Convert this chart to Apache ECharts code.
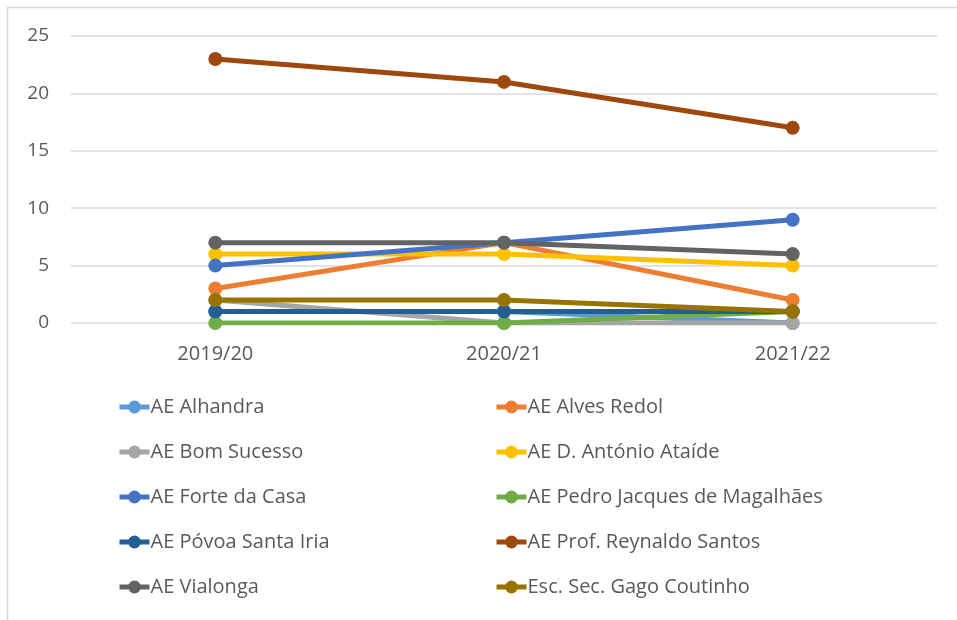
<!DOCTYPE html>
<html>
<head>
<meta charset="utf-8">
<script src="https://cdn.jsdelivr.net/npm/echarts@6/dist/echarts.min.js"></script>
<style>
    html, body { margin: 0; padding: 0; background: #fff; }
    #chart { width: 957px; height: 620px; }
</style>
</head>
<body>
<div id="chart"></div>
<script>
/**
 * 数据
 */
var categories = ['2019/20', '2020/21', '2021/22'];
var seriesNames = [
    'AE Alhandra', 'AE Alves Redol', 'AE Bom Sucesso', 'AE D. António Ataíde',
    'AE Forte da Casa', 'AE Pedro Jacques de Magalhães', 'AE Póvoa Santa Iria',
    'AE Prof. Reynaldo Santos', 'AE Vialonga', 'Esc. Sec. Gago Coutinho'
];
var alhandra = [1, 1, 0];
var alvesRedol = [3, 7, 2];
var bomSucesso = [2, 0, 0];
var antonioAtaide = [6, 6, 5];
var forteDaCasa = [5, 7, 9];
var pedroJacques = [0, 0, 1];
var povoaSantaIria = [1, 1, 1];
var reynaldoSantos = [23, 21, 17];
var vialonga = [7, 7, 6];
var gagoCoutinho = [2, 2, 1];
var seriesValues = [alhandra, alvesRedol, bomSucesso, antonioAtaide, forteDaCasa,
    pedroJacques, povoaSantaIria, reynaldoSantos, vialonga, gagoCoutinho];
var yTicks = [0, 5, 10, 15, 20, 25];

var colors = ['#5B9BD5', '#ED7D31', '#A5A5A5', '#FFC000', '#4472C4',
    '#70AD47', '#255E91', '#9E480E', '#636363', '#997300'];

var font = '"Open Sans", "Liberation Sans", sans-serif';

(function () {
    var chart = echarts.init(document.getElementById('chart'));

    var series = [];
    for (var i = 0; i < seriesNames.length; i++) {
        series.push({
            name: seriesNames[i],
            type: 'line',
            data: seriesValues[i],
            symbol: 'circle',
            symbolSize: 14,
            lineStyle: {width: 5, color: colors[i]},
            itemStyle: {color: colors[i]},
            emphasis: {disabled: true}
        });
    }

    // 图例分两列
    var leftNames = [], rightNames = [];
    for (var j = 0; j < seriesNames.length; j++) {
        if (j % 2 == 0) {
            leftNames.push(seriesNames[j]);
        } else {
            rightNames.push(seriesNames[j]);
        }
    }
    var legendBase = {
        orient: 'vertical',
        top: 397,
        height: 222,
        padding: 0,
        itemWidth: 30,
        itemHeight: 16,
        itemGap: 25,
        lineStyle: {width: 5},
        textStyle: {fontFamily: font, fontSize: 20, color: '#595959', padding: [0, 0, 0, -4]}
    };

    var option = {
        color: colors,
        animation: false,
        graphic: [{
            type: 'rect',
            shape: {x: 7.5, y: 7.5, width: 1000, height: 700},
            style: {fill: 'none', stroke: '#D9D9D9', lineWidth: 1.5},
            silent: true
        }],
        grid: {left: 71, right: 20, top: 36, height: 287, containLabel: false},
        legend: [
            echarts.util.merge({left: 117, data: leftNames}, legendBase, false),
            echarts.util.merge({left: 494, data: rightNames}, legendBase, false)
        ],
        xAxis: {
            type: 'category',
            data: categories,
            boundaryGap: true,
            axisLine: {show: false},
            axisTick: {show: false},
            axisLabel: {fontFamily: font, fontSize: 20, color: '#595959', margin: 21}
        },
        yAxis: {
            type: 'value',
            min: yTicks[0],
            max: yTicks[yTicks.length - 1],
            interval: 5,
            axisLine: {show: false},
            axisTick: {show: false},
            axisLabel: {fontFamily: font, fontSize: 19, color: '#595959', margin: 22},
            splitLine: {lineStyle: {color: '#D9D9D9', width: 1.5}}
        },
        series: series
    };
    chart.setOption(option);
})();
</script>
</body>
</html>
